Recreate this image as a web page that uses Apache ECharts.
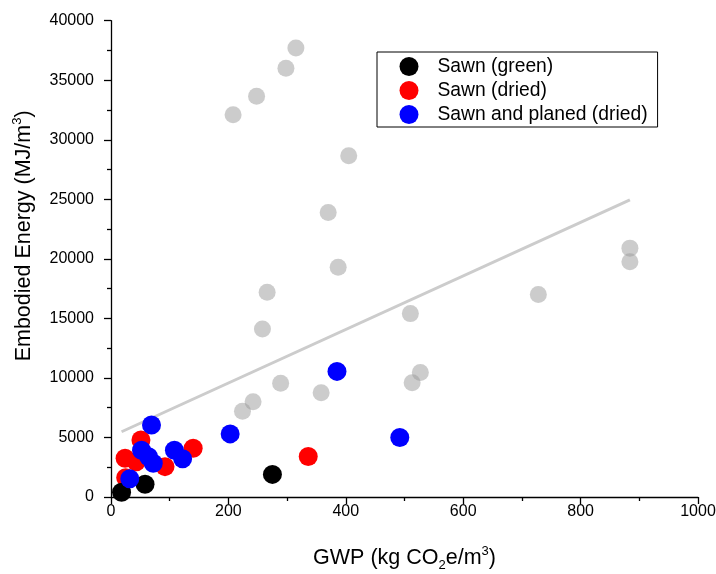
<!DOCTYPE html>
<html>
<head>
<meta charset="utf-8">
<script src="https://cdn.jsdelivr.net/npm/echarts@6/dist/echarts.min.js"></script>
<style>
html,body{margin:0;padding:0;background:#fff;}
#chart{width:716px;height:574px;}
</style>
</head>
<body>
<div id="chart"></div>
<script>
// ---- data (GWP kg CO2e/m3, Embodied energy MJ/m3) ----
const greyGWP    = [315, 298, 248, 208, 405, 370, 884, 884, 387, 266, 728, 510, 258, 527, 513, 289, 358, 242, 224];
const greyEnergy = [37700, 36000, 33650, 32100, 28650, 23900, 20900, 19750, 19300, 17200, 17000, 15400, 14100, 10450, 9600, 9550, 8750, 8000, 7200];

const greenGWP    = [18, 58, 275];
const greenEnergy = [400, 1070, 1900];

const driedGWP    = [25, 24, 43, 51, 92, 140, 336];
const driedEnergy = [1620, 3250, 2950, 4780, 2550, 4100, 3400];

const planedGWP    = [32, 52, 64, 72, 69, 108, 122, 203, 385, 492];
const planedEnergy = [1530, 3920, 3380, 2830, 6050, 3920, 3220, 5300, 10550, 5000];

const trendGWP    = [18, 884];
const trendEnergy = [5480, 24950];

const xTicks = [0, 200, 400, 600, 800, 1000];
const yTicks = [0, 5000, 10000, 15000, 20000, 25000, 30000, 35000, 40000];

const seriesNames = ['Sawn (green)', 'Sawn (dried)', 'Sawn and planed (dried)'];

// ---- helpers ----
const zip = (a, b) => a.map((v, i) => [v, b[i]]);
const FONT = '"Liberation Sans", Arial, sans-serif';

const chart = echarts.init(document.getElementById('chart'), null, {renderer: 'canvas'});

const richName = {
  sub: {fontSize: 13, fontFamily: FONT, color: '#000', padding: [13, 0, 0, 0]},
  sup: {fontSize: 13, fontFamily: FONT, color: '#000', padding: [0, 0, 14, 0]}
};

const axisCommon = {
  type: 'value',
  axisLine: {show: true, onZero: false, lineStyle: {color: '#000', width: 1.3}},
  axisTick: {show: true, inside: false, length: 7, lineStyle: {color: '#000', width: 1.3}},
  minorTick: {show: true, splitNumber: 2, length: 4, lineStyle: {color: '#000', width: 1.3}},
  splitLine: {show: false},
  minorSplitLine: {show: false},
  axisLabel: {color: '#000', fontSize: 16, fontFamily: FONT, formatter: v => String(v)},
  nameLocation: 'middle'
};

chart.setOption({
  animation: false,
  backgroundColor: '#fff',
  grid: {left: 111, right: 18, top: 20.7, bottom: 77, containLabel: false, outerBoundsMode: 'none'},
  xAxis: Object.assign({}, axisCommon, {
    min: xTicks[0], max: xTicks[xTicks.length - 1], interval: xTicks[1] - xTicks[0],
    axisLabel: Object.assign({}, axisCommon.axisLabel, {margin: 7}),
    name: 'GWP (kg CO{sub|2}e/m{sup|3})',
    nameGap: 48,
    nameTextStyle: {color: '#000', fontSize: 21.5, fontFamily: FONT, rich: richName}
  }),
  yAxis: Object.assign({}, axisCommon, {
    min: yTicks[0], max: yTicks[yTicks.length - 1], interval: yTicks[1] - yTicks[0],
    axisLabel: Object.assign({}, axisCommon.axisLabel, {margin: 17}),
    name: 'Embodied Energy (MJ/m{sup|3})',
    nameRotate: 90,
    nameGap: 73,
    nameTextStyle: {color: '#000', fontSize: 21.5, fontFamily: FONT, rich: richName, padding: [0, 0, 0, 46]}
  }),
  legend: {
    data: seriesNames,
    orient: 'vertical',
    left: 377, top: 52,
    padding: [5, 10, 3, 22.5],
    itemWidth: 19, itemHeight: 19, itemGap: 5,
    icon: 'circle',
    borderColor: '#000', borderWidth: 1, backgroundColor: '#fff',
    textStyle: {color: '#000', fontSize: 19.3, fontFamily: FONT, padding: [0, 0, 0, 14]}
  },
  series: [
    {
      name: 'all', type: 'scatter', data: zip(greyGWP, greyEnergy),
      symbol: 'circle', symbolSize: 17, silent: true, z: 1,
      itemStyle: {color: '#999999', opacity: 0.5}
    },
    {
      name: 'trend', type: 'line', data: zip(trendGWP, trendEnergy),
      showSymbol: false, silent: true, z: 2,
      lineStyle: {color: '#cccccc', width: 3}
    },
    {
      name: seriesNames[1], type: 'scatter', data: zip(driedGWP, driedEnergy),
      symbol: 'circle', symbolSize: 19, z: 3, itemStyle: {color: '#ff0000', opacity: 1}
    },
    {
      name: seriesNames[0], type: 'scatter', data: zip(greenGWP, greenEnergy),
      symbol: 'circle', symbolSize: 19, z: 4, itemStyle: {color: '#000000', opacity: 1}
    },
    {
      name: seriesNames[2], type: 'scatter', data: zip(planedGWP, planedEnergy),
      symbol: 'circle', symbolSize: 19, z: 5, itemStyle: {color: '#0000ff', opacity: 1}
    }
  ]
});
</script>
</body>
</html>
